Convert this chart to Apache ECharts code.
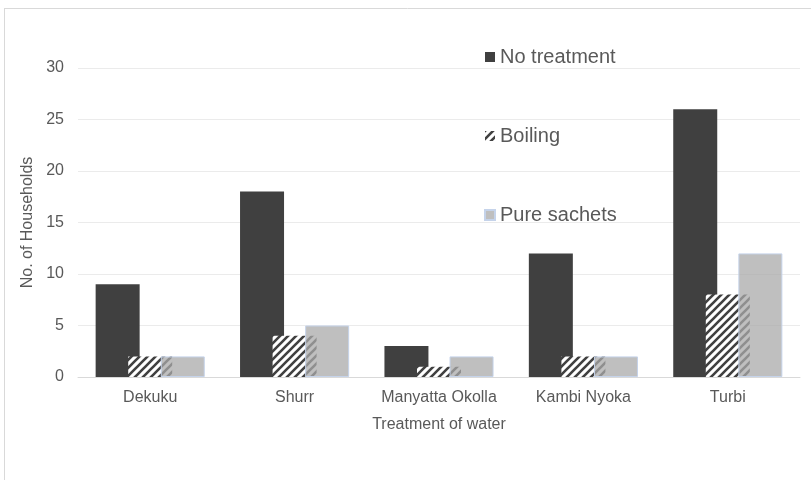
<!DOCTYPE html>
<html>
<head>
<meta charset="utf-8">
<style>
  html, body { margin: 0; padding: 0; background: #fff; }
  #chart { width: 811px; height: 486px; }
</style>
<script src="https://cdn.jsdelivr.net/npm/echarts@6/dist/echarts.min.js"></script>
</head>
<body>
<div id="chart"></div>
<script>
var categories = ['Dekuku', 'Shurr', 'Manyatta Okolla', 'Kambi Nyoka', 'Turbi']
var noTreatment = [9, 18, 3, 12, 26]
var boiling = [2, 4, 1, 2, 8]
var pureSachets = [2, 5, 2, 2, 12]

// diagonal hatch used for "Boiling"
function hatch() {
  var c = document.createElement('canvas')
  c.width = 8
  c.height = 8
  var ctx = c.getContext('2d')
  ctx.fillStyle = '#fff'
  ctx.fillRect(0, 0, 8, 8)
  ctx.strokeStyle = '#404040'
  ctx.lineWidth = 2.6
  ctx.beginPath()
  ctx.moveTo(-2, 10); ctx.lineTo(10, -2)
  ctx.moveTo(-6, 6); ctx.lineTo(6, -6)
  ctx.moveTo(2, 14); ctx.lineTo(14, 2)
  ctx.stroke()
  return c
}
var hatchFill = { image: hatch(), repeat: 'repeat' }

var chart = echarts.init(document.getElementById('chart'))
chart.setOption({
  animation: false,
  textStyle: { fontFamily: 'Liberation Sans, Arial, sans-serif' },
  graphic: [
    { type: 'line', shape: { x1: 4, y1: 8.5, x2: 811, y2: 8.5 }, style: { stroke: '#d9d9d9', lineWidth: 1 } },
    { type: 'line', shape: { x1: 4.5, y1: 8, x2: 4.5, y2: 480 }, style: { stroke: '#d9d9d9', lineWidth: 1 } }
  ],
  grid: {
    left: 78,
    right: 11,
    top: 68,
    bottom: 109
  },
  legend: {
    orient: 'vertical',
    left: 479,
    top: 42,
    itemGap: 59,
    itemWidth: 10,
    itemHeight: 10,
    textStyle: { color: '#595959', fontSize: 20 },
    data: [
      { name: 'No treatment', icon: 'rect' },
      { name: 'Boiling', icon: 'rect' },
      { name: 'Pure sachets', icon: 'rect' }
    ]
  },
  xAxis: {
    type: 'category',
    data: categories,
    name: 'Treatment of water',
    nameLocation: 'middle',
    nameGap: 40,
    nameTextStyle: { color: '#595959', fontSize: 16 },
    axisLine: { lineStyle: { color: '#d9d9d9' } },
    axisTick: { show: false },
    axisLabel: { color: '#595959', fontSize: 16, margin: 13, interval: 0 }
  },
  yAxis: {
    type: 'value',
    min: 0,
    max: 30,
    interval: 5,
    name: 'No. of Households',
    nameLocation: 'middle',
    nameGap: 35,
    nameTextStyle: { color: '#595959', fontSize: 16 },
    axisLine: { show: false },
    axisTick: { show: false },
    axisLabel: { color: '#595959', fontSize: 16, margin: 14 },
    splitLine: { lineStyle: { color: '#ebebeb' } }
  },
  series: [
    {
      name: 'No treatment',
      type: 'bar',
      data: noTreatment,
      barWidth: 44,
      barGap: '-26%',
      itemStyle: { color: '#404040' }
    },
    {
      name: 'Boiling',
      type: 'bar',
      data: boiling,
      barWidth: 44,
      barGap: '-26%',
      itemStyle: { color: hatchFill }
    },
    {
      name: 'Pure sachets',
      type: 'bar',
      data: pureSachets,
      barWidth: 44,
      barGap: '-26%',
      itemStyle: { color: 'rgba(170,170,170,0.75)', borderColor: '#c5d3ea', borderWidth: 1 }
    }
  ]
})
</script>
</body>
</html>
